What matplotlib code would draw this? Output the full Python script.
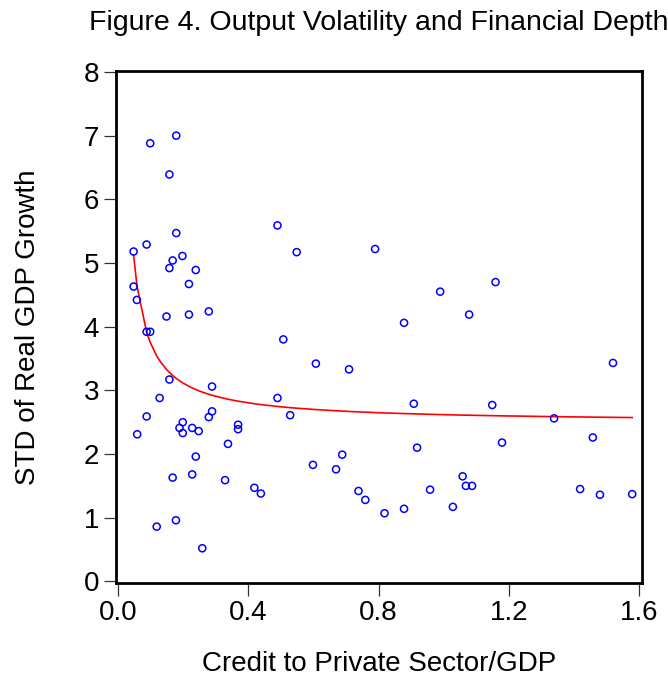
import numpy as np
import matplotlib.pyplot as plt

plt.rcParams['font.family'] = ['Liberation Sans', 'DejaVu Sans']

# ------------------------------------------------------------
# Data
# ------------------------------------------------------------

credit_gdp = np.array([
    0.098, 0.178, 0.157, 0.178, 0.087, 0.047, 0.489, 0.548, 0.167, 0.197,
    0.157, 0.238, 0.217, 0.047, 0.057, 0.148, 0.217, 0.278, 0.789, 0.989,
    1.078, 0.878, 1.159, 0.087, 0.098, 0.507, 0.157, 0.288, 0.127, 0.489,
    0.528, 0.087, 0.288, 0.278, 0.198, 0.188, 0.198, 0.227, 0.247, 0.368,
    0.368, 0.058, 0.337, 0.238, 0.227, 0.167, 0.328, 0.418, 0.438, 0.177,
    0.118, 0.258, 0.607, 0.709, 0.908, 1.149, 0.918, 0.688, 0.598, 0.669,
    1.058, 1.068, 1.087, 0.738, 0.958, 0.759, 1.028, 0.878, 0.818, 1.520,
    1.339, 1.179, 1.458, 1.419, 1.480, 1.579,
])

std_growth = np.array([
    6.88, 7.00, 6.39, 5.47, 5.29, 5.18, 5.59, 5.17, 5.04, 5.11,
    4.92, 4.89, 4.67, 4.63, 4.42, 4.16, 4.19, 4.24, 5.22, 4.55,
    4.19, 4.06, 4.70, 3.92, 3.92, 3.80, 3.17, 3.06, 2.88, 2.88,
    2.61, 2.59, 2.67, 2.58, 2.50, 2.41, 2.33, 2.41, 2.36, 2.46,
    2.39, 2.31, 2.16, 1.96, 1.68, 1.63, 1.59, 1.47, 1.38, 0.96,
    0.86, 0.52, 3.42, 3.33, 2.79, 2.77, 2.10, 1.99, 1.83, 1.76,
    1.65, 1.50, 1.50, 1.42, 1.44, 1.28, 1.17, 1.14, 1.07, 3.43,
    2.56, 2.18, 2.26, 1.45, 1.36, 1.37,
])

x_ticks = [0.0, 0.4, 0.8, 1.2, 1.6]
y_ticks = [0, 1, 2, 3, 4, 5, 6, 7, 8]

# ------------------------------------------------------------
# Inverse fit: y = a + b / x
# ------------------------------------------------------------

b, a = np.polyfit(1.0 / credit_gdp, std_growth, 1)
x_fit = np.sort(credit_gdp)
y_fit = a + b / x_fit

# ------------------------------------------------------------
# Plot
# ------------------------------------------------------------

fig = plt.figure(figsize=(6.68, 6.77), dpi=100)
ax = fig.add_axes([0.1737, 0.1384, 0.7878, 0.7572])

ax.scatter(credit_gdp, std_growth, s=26, facecolors='none',
           edgecolors='#0000ff', linewidths=1.1, zorder=3)
ax.plot(x_fit, y_fit, color='#ff0000', linewidth=1.2, zorder=2)

ax.set_xlim(-0.007, 1.61)
ax.set_ylim(-0.03, 8.02)
ax.set_xticks(x_ticks)
ax.set_xticklabels([f"{v:.1f}" for v in x_ticks])
ax.set_yticks(y_ticks)

for side in ['left', 'right', 'top', 'bottom']:
    ax.spines[side].set_linewidth(2.0)
    ax.spines[side].set_color('black')

ax.tick_params(axis='both', direction='out', length=9, width=0.9,
               color='#333333', labelsize=20, pad=3)

ax.set_xlabel("Credit to Private Sector/GDP", fontsize=20, labelpad=18)
ax.set_ylabel("STD of Real GDP Growth", fontsize=20, labelpad=31)

fig.text(0.5673, 1 - 30 / 677, "Figure 4. Output Volatility and Financial Depth",
         fontsize=20.5, ha='center', va='baseline')

fig.savefig("out.png", dpi=100)
